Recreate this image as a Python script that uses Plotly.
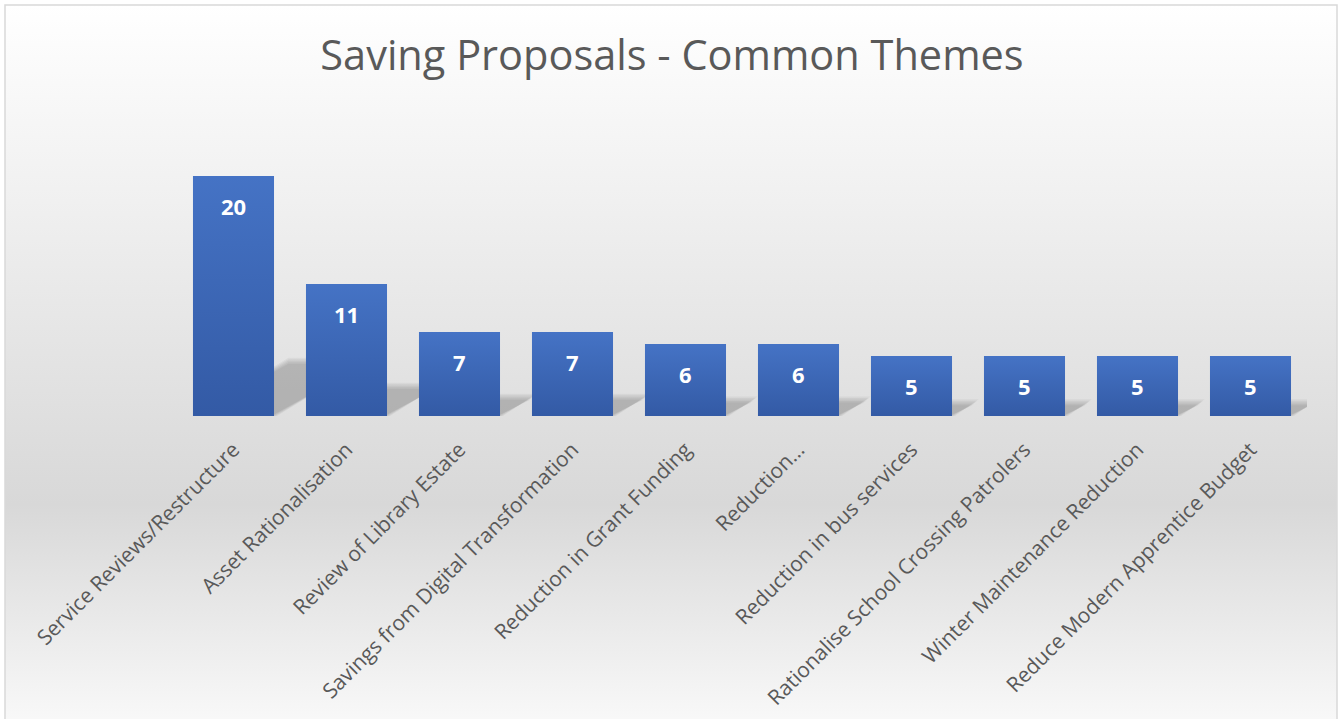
import base64
import plotly.graph_objects as go

# Saving proposal themes and how many proposals fall under each
categories = [
    "Service Reviews/Restructure",
    "Asset Rationalisation",
    "Review of Library Estate",
    "Savings from Digital Transformation",
    "Reduction in Grant Funding",
    "Reduction…",
    "Reduction in bus services",
    "Rationalise School Crossing Patrolers",
    "Winter Maintenance Reduction",
    "Reduce Modern Apprentice Budget",
]
counts = [20, 11, 7, 7, 6, 6, 5, 5, 5, 5]
title_text = "Saving Proposals - Common Themes"

# Page geometry (pixels)
W, H = 1340, 719
PLOT_L, PLOT_R = 177, 1307
PLOT_T, PLOT_B = 116, 416
Y_MAX = 25
BAR_W = 0.717
FONT = "Open Sans"
TEXT_GREY = "#595959"

plot_w = PLOT_R - PLOT_L
plot_h = PLOT_B - PLOT_T
px_x = lambda px: (px - PLOT_L) / plot_w          # page px -> paper x
px_y = lambda py: (PLOT_B - py) / plot_h          # page px -> paper y
unit_x = plot_w / len(categories)                 # px per category
unit_y = plot_h / Y_MAX                           # px per value unit

xs = list(range(len(categories)))

fig = go.Figure()

# Blue bars
fig.add_trace(go.Bar(
    x=xs, y=counts, width=BAR_W,
    marker=dict(color="#3C66B6", line=dict(width=0)),
    hovertemplate="%{customdata}: %{y}<extra></extra>",
    customdata=categories,
))

# Vertical gradient over each bar (lighter at the top)
for x, v in zip(xs, counts):
    x0, x1 = x - BAR_W / 2, x + BAR_W / 2
    fig.add_trace(go.Scatter(
        x=[x0, x1, x1, x0, x0], y=[0, 0, v, v, 0],
        mode="none", fill="toself",
        fillgradient=dict(type="vertical",
                          colorscale=[[0, "#335AA5"], [1, "#4573C5"]]),
        hoverinfo="skip", showlegend=False,
    ))

# Soft perspective shadows cast behind and to the right of each bar
shapes = []
for x, v in zip(xs, counts):
    h = 0.23 * v                        # shadow height in value units
    dx = 1.73 * h * unit_y / unit_x     # horizontal lean in category units
    x0, x1 = x - BAR_W / 2, x + BAR_W / 2
    for grow in (-3, -1.5, 0, 1.5, 3):
        gx = grow / unit_x
        gy = grow / unit_y
        path = (f"M {x0:.4f},0 L {x1 + gx:.4f},0 "
                f"L {x1 + dx + gx:.4f},{h + gy:.4f} "
                f"L {x0 + dx:.4f},{h + gy:.4f} Z")
        shapes.append(dict(type="path", path=path, xref="x", yref="y",
                           fillcolor="rgba(0,0,0,0.045)", line=dict(width=0),
                           layer="below"))

# Chart frame
shapes.append(dict(type="rect", xref="paper", yref="paper",
                   x0=px_x(5), x1=px_x(1337), y0=px_y(730), y1=px_y(5),
                   line=dict(color="#d9d9d9", width=1.5),
                   fillcolor="rgba(0,0,0,0)", layer="above"))

# Value labels just inside the top of each bar
annotations = []
for x, v in zip(xs, counts):
    annotations.append(dict(
        x=x, y=v, xref="x", yref="y", text=f"<b>{v}</b>", showarrow=False,
        yanchor="middle", yshift=-30,
        font=dict(family=FONT, size=22, color="white"),
    ))

# Grey band gradient behind the whole chart
svg = (
    f'<svg xmlns="http://www.w3.org/2000/svg" width="{W}" height="{H}" '
    f'preserveAspectRatio="none" viewBox="0 0 {W} {H}">'
    '<defs><linearGradient id="g" x1="0" y1="0" x2="0" y2="1">'
    '<stop offset="0" stop-color="#ffffff"/>'
    '<stop offset="0.25" stop-color="#f1f1f1"/>'
    '<stop offset="0.68" stop-color="#d8d8d8"/>'
    '<stop offset="1" stop-color="#fbfbfb"/>'
    '</linearGradient></defs>'
    f'<rect x="0" y="0" width="{W}" height="{H}" fill="url(#g)"/></svg>'
)
bg_src = "data:image/svg+xml;base64," + base64.b64encode(svg.encode()).decode()

fig.update_layout(
    width=W, height=H,
    margin=dict(l=PLOT_L, r=W - PLOT_R, t=PLOT_T, b=H - PLOT_B, pad=0,
                autoexpand=False),
    paper_bgcolor="rgba(0,0,0,0)", plot_bgcolor="rgba(0,0,0,0)",
    showlegend=False,
    title=dict(text=title_text, x=px_x(672), xanchor="center", xref="paper",
               y=1 - 55 / H, yref="container", yanchor="middle",
               font=dict(family=FONT, size=41.5, color=TEXT_GREY)),
    xaxis=dict(
        range=[-0.5, len(categories) - 0.5], tickmode="array",
        tickvals=xs, ticktext=categories, tickangle=-45,
        showgrid=False, zeroline=False, showline=False,
        ticks="outside", ticklen=12, tickcolor="rgba(0,0,0,0)",
        tickfont=dict(family=FONT, size=21, color=TEXT_GREY),
        automargin=False, fixedrange=True,
    ),
    yaxis=dict(range=[0, Y_MAX], visible=False, fixedrange=True,
               automargin=False),
    shapes=shapes,
    annotations=annotations,
    images=[dict(source=bg_src, xref="paper", yref="paper",
                 x=px_x(5), y=px_y(5), sizex=(1337 - 5) / plot_w,
                 sizey=(H + 20 - 5) / plot_h, sizing="stretch",
                 xanchor="left", yanchor="top", layer="below")],
)

fig.write_html("out.html")
